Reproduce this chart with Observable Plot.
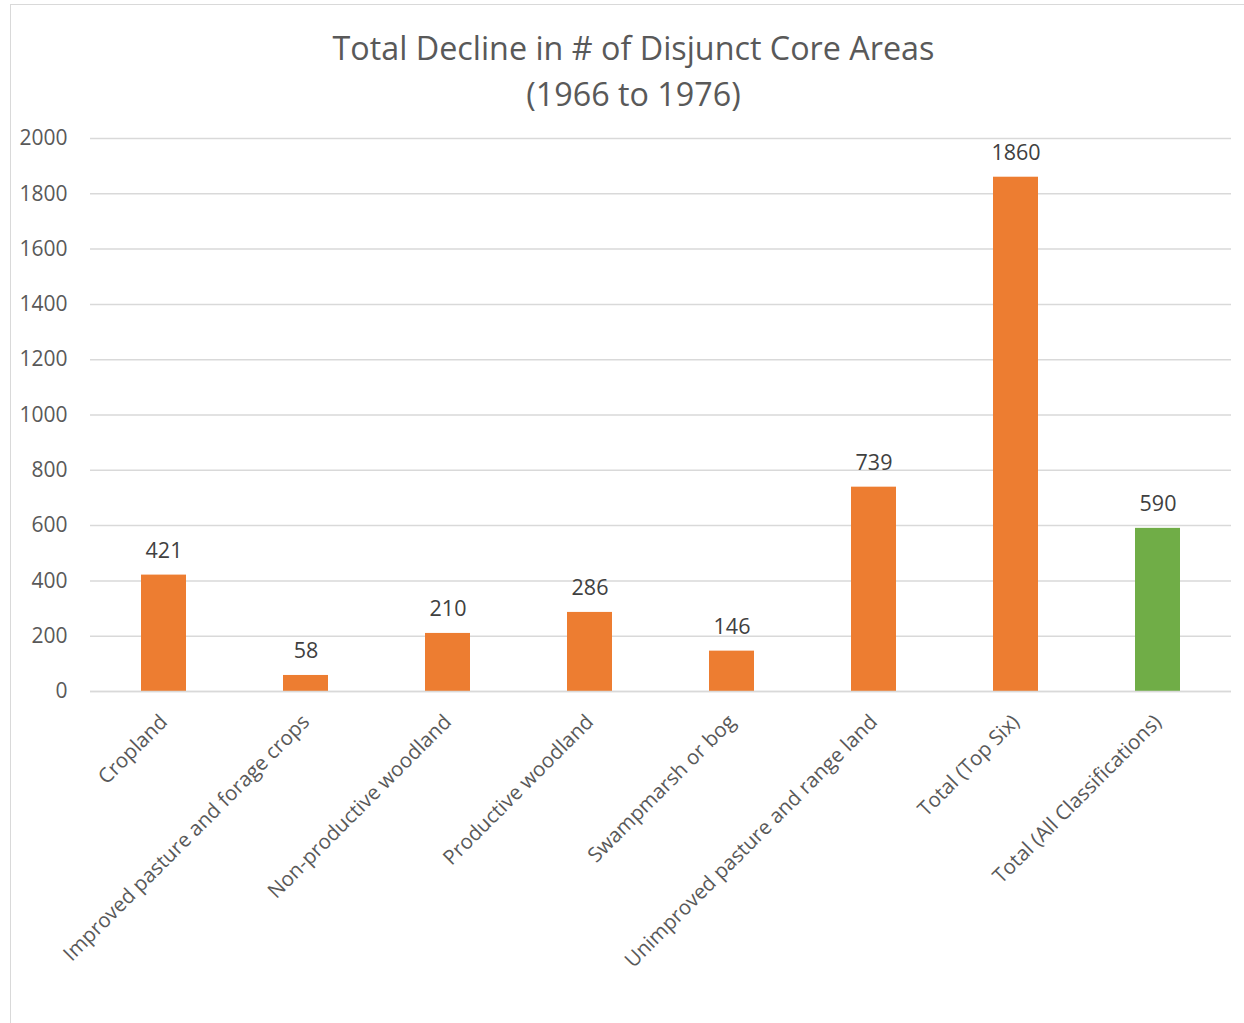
<!DOCTYPE html>
<html><head><meta charset="utf-8">
<script src="https://cdn.jsdelivr.net/npm/d3@7"></script>
<script src="https://cdn.jsdelivr.net/npm/@observablehq/plot@0.6"></script>
<style>
html,body{margin:0;padding:0;background:#fff;overflow:hidden;width:1244px;height:1023px;}
#frame{position:absolute;left:10px;top:4px;width:1300px;height:1100px;border:1.5px solid #d9d9d9;}
#title{position:absolute;left:0;top:24px;width:1267px;text-align:center;font-family:"Open Sans";font-size:32.3px;color:#595959;line-height:46px;z-index:2;}
#chart{position:absolute;left:0;top:0;z-index:1;}
</style></head><body>
<div id="frame"></div>
<div id="title">Total Decline in # of Disjunct Core Areas<br>(1966 to 1976)</div>
<div id="chart"></div>
<script>
const categories = ["Cropland","Improved pasture and forage crops","Non-productive woodland","Productive woodland","Swampmarsh or bog","Unimproved pasture and range land","Total (Top Six)","Total (All Classifications)"];
const values = [421, 58, 210, 286, 146, 739, 1860, 590];
const groups = ["class","class","class","class","class","class","class","all"];
const yTicks = [0,200,400,600,800,1000,1200,1400,1600,1800,2000];

const data = categories.map((c,i)=>({category:c, value:values[i], group:groups[i]}));

const chart = Plot.plot({
  width:1244, height:1023,
  marginTop:138, marginBottom:332, marginLeft:90, marginRight:13,
  style:{fontFamily:"Open Sans", fontSize:"20px", color:"#595959", background:"transparent", overflow:"visible"},
  x:{domain:categories, paddingInner:0.685, paddingOuter:0.3425, label:null},
  y:{domain:[0,2000], label:null},
  color:{domain:["class","all"], range:["#ED7D31","#70AD47"]},
  marks:[
    Plot.gridY(yTicks,{stroke:"#d9d9d9", strokeOpacity:1, strokeWidth:1.5}),
    Plot.barY(data,{x:"category", y:"value", fill:"group"}),
    Plot.ruleY([0],{stroke:"#d9d9d9", strokeWidth:1.5}),
    Plot.axisY({ticks:yTicks, tickFormat:d=>String(d), tickSize:0, tickPadding:23, label:null, fontSize:21, fill:"#595959"}),
    Plot.axisX({tickRotate:-45, tickSize:0, tickPadding:27, label:null, fontSize:20.5, fill:"#595959"}),
    Plot.text(data,{x:"category", y:"value", text:d=>String(d.value), dy:-24, fill:"#404040", fontSize:21.5})
  ]
});
document.getElementById("chart").appendChild(chart);
</script>
</body></html>
